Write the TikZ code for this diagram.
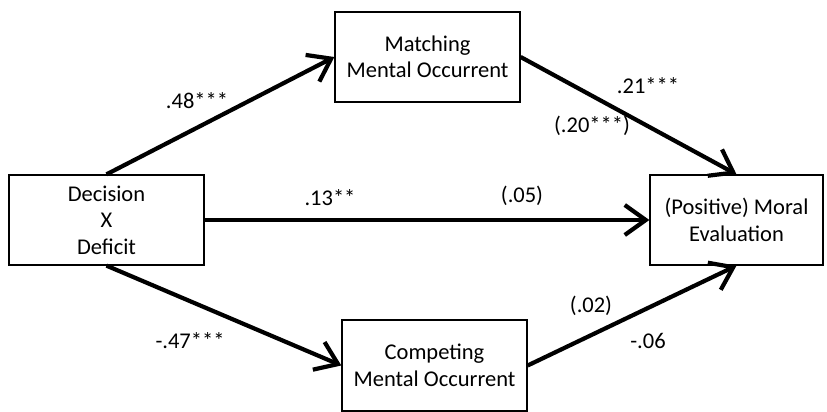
\documentclass[tikz,border=0pt]{standalone}
\usepackage{fontspec}
\setmainfont{Carlito}
\usetikzlibrary{arrows.meta}
\begin{document}
\begin{tikzpicture}[x=1pt,y=-1pt,
  every node/.style={font=\fontsize{22.5pt}{26.5pt}\selectfont, inner sep=0pt},
  box/.style={draw=black, line width=1.3pt, fill=white, align=center},
  path/.style={line width=4.2pt, -{Straight Barb[length=21pt,width=30pt,line width=4.2pt]}},
  lbl/.style={text=black}]
\useasboundingbox (0,0) rectangle (827,412);
\node[box, minimum width=195pt, minimum height=90pt] (dec) at (106.5,220) {Decision\\X\\Deficit};
\node[box, minimum width=185pt, minimum height=90pt] (match) at (427.5,57) {Matching\\Mental Occurrent};
\node[box, minimum width=173pt, minimum height=90pt] (moral) at (736.5,220) {(Positive) Moral\\Evaluation};
\node[box, minimum width=185pt, minimum height=91pt] (comp) at (434.5,365.5) {Competing\\Mental Occurrent};
\draw[path] (dec.north) -- (match.west);
\draw[path] (match.east) -- (moral.north);
\draw[path] (dec.east) -- (moral.west);
\draw[path] (dec.south) -- (comp.west);
\draw[path] (comp.east) -- (moral.south);
\node[lbl] (l1) at (197,101) {.48***};
\node[lbl] (l2) at (648,86) {.21***};
\node[lbl] (l3) at (592,126) {(.20***)};
\node[lbl] (l4) at (330,198) {.13**};
\node[lbl] (l5) at (522,196) {(.05)};
\node[lbl] (l6) at (190,341) {-.47***};
\node[lbl] (l7) at (591,306) {(.02)};
\node[lbl] (l8) at (648,341) {-.06};
\end{tikzpicture}
\end{document}
